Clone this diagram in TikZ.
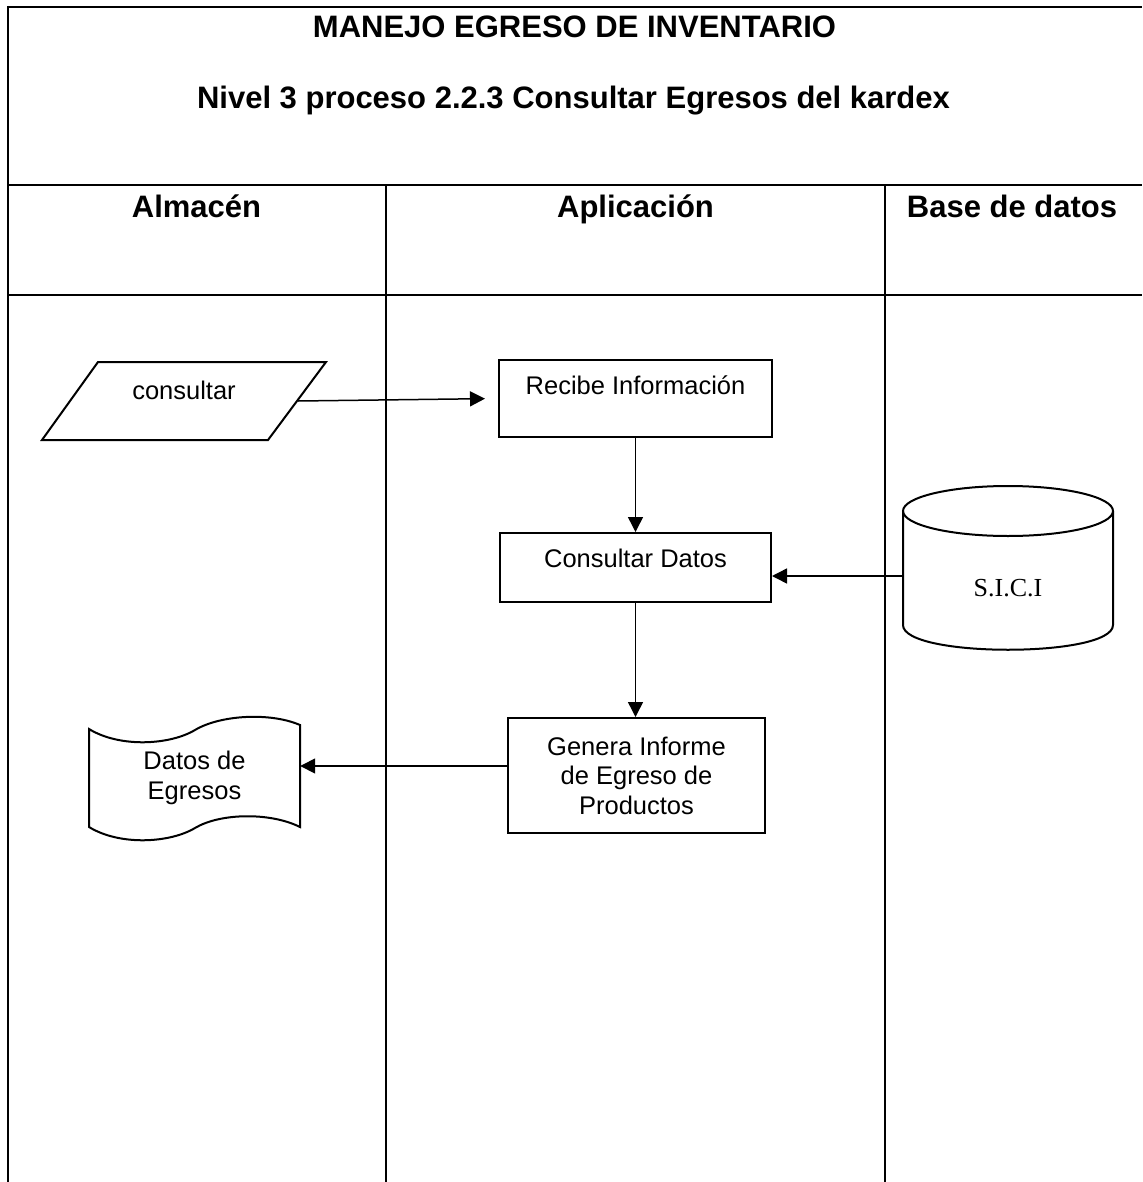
\documentclass[tikz,border=0pt]{standalone}
\usepackage{fontspec}
\setmainfont{Liberation Sans}
\newfontfamily\timesfont{Liberation Serif}
\usetikzlibrary{arrows.meta,shapes.geometric}
\begin{document}
\begin{tikzpicture}[x=1pt,y=-1pt,
  hline/.style={line width=2.6pt},
  vline/.style={line width=2.1pt},
  shp/.style={draw,line width=2pt,inner sep=0pt},
  ghost/.style={inner sep=0pt},
  txt/.style={font=\fontsize{25.5}{29.5}\selectfont,align=center},
  ttl/.style={font=\bfseries\fontsize{31}{36}\selectfont,anchor=base},
  arr/.style={-{Triangle[length=15pt,width=15pt]},line width=1.5pt}]
\useasboundingbox (0,0) rectangle (1142,1182);
% table
\draw[hline] (8,7) -- (1142,7);
\draw[hline] (8,185) -- (1142,185);
\draw[hline] (8,295) -- (1142,295);
\draw[vline] (8,6) -- (8,1182);
\draw[vline] (386,185) -- (386,1182);
\draw[vline] (885,185) -- (885,1182);
% titles
\node[ttl] (t1) at (574.5,38) {MANEJO EGRESO DE INVENTARIO};
\node[ttl] (t2) at (573.5,109) {Nivel 3 proceso 2.2.3 Consultar Egresos del kardex};
\node[ttl] (h1) at (196.5,218) {Almacén};
\node[ttl] (h2) at (635.5,218) {Aplicación};
\node[ttl] (h3) at (1012,218) {Base de datos};
% parallelogram
\node[ghost,minimum width=228pt,minimum height=78pt,
  label={[txt,yshift=11pt]center:consultar}] (cons) at (184,401) {};
\draw[line width=2pt,line join=miter] (98,362) -- (326,362) -- (268,440) -- (42,440) -- cycle;
% boxes
\node[shp,minimum width=273pt,minimum height=77pt,
  label={[txt,yshift=13pt]center:Recibe Información}] (rec) at (635.5,398.5) {};
\node[shp,minimum width=271pt,minimum height=69pt,
  label={[txt,yshift=9.5pt]center:Consultar Datos}] (cd) at (635.5,567.5) {};
\node[shp,txt,minimum width=257pt,minimum height=115pt] (gen) at (636.5,775.5) {Genera Informe\\de Egreso de\\Productos};
% cylinder
\node[ghost,minimum width=210pt,minimum height=130pt,
  label={[font=\timesfont\fontsize{26}{30}\selectfont,yshift=-12pt]center:S.I.C.I}] (db) at (1008,576) {};
\draw[line width=2pt] (1008,511) ellipse [x radius=105,y radius=25];
\draw[line width=2pt] (903,511) -- (903,625) .. controls (903,658) and (1113,658) .. (1113,625) -- (1113,511);
% document
\node[ghost,minimum width=211pt,minimum height=90pt,
  label={[txt,yshift=-12pt]center:Datos de\\Egresos}] (doc) at (194.5,766) {};
\draw[line width=2pt] (89,729) .. controls (120,748) and (170,745) .. (195,730)
  .. controls (220,715) and (270,712) .. (300,725) -- (300,827)
  .. controls (270,812) and (220,813) .. (195,828)
  .. controls (170,843) and (120,846) .. (89,827) -- cycle;
% connectors
\draw[arr,shorten >=13pt] (cons.east) -- (rec.west);
\draw[arr] (rec.south) -- (rec.south |- cd.north);
\draw[arr] (db.west) -- (cd.east |- db.west);
\draw[arr] (cd.south) -- (cd.south |- gen.north);
\draw[arr] (gen.west |- doc.east) -- (doc.east);
\end{tikzpicture}
\end{document}
